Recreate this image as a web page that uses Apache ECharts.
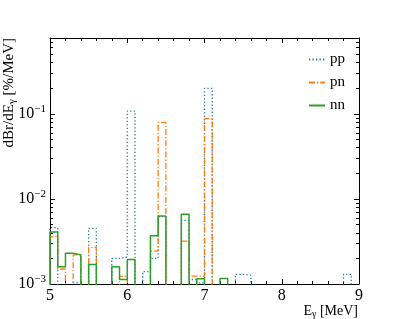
<!DOCTYPE html>
<html><head><meta charset="utf-8">
<script src="https://cdn.jsdelivr.net/npm/echarts@6/dist/echarts.min.js"></script>
<style>html,body{margin:0;padding:0;background:#fff}#c{width:399px;height:319px}</style>
</head><body><div id="c"></div>
<script>
// bin left edges (MeV), bin width 0.1
const binEdges = [5.0,5.1,5.2,5.3,5.4,5.5,5.6,5.7,5.8,5.9,6.0,6.1,6.2,6.3,6.4,6.5,6.6,6.7,6.8,6.9,7.0,7.1,7.2,7.3,7.4,7.5,7.6,7.7,7.8,7.9,8.0,8.1,8.2,8.3,8.4,8.5,8.6,8.7,8.8,8.9];
const xEnd = 9.0;
// dBr/dE values (%/MeV), null = empty bin
const pp = [0.0046,null,null,0.00104,null,0.0045,null,null,0.0020,0.00208,0.108,null,0.0014,0.0020,0.0062,null,null,0.0056,0.00113,0.00103,0.199,null,null,null,0.0013,0.00127,null,null,null,null,null,null,null,null,null,null,null,null,0.0013,null];
const pn = [0.0036,0.0015,null,0.0022,null,0.0027,null,null,null,0.00123,null,null,null,0.00244,0.0793,null,null,0.0032,0.00124,0.00124,0.0879,null,null,null,null,null,null,null,null,null,null,null,null,null,null,null,null,null,null,null];
const nn = [0.0041,0.0016,0.0023,0.0022,null,0.0017,null,null,0.0016,0.00113,0.00194,null,null,0.0037,0.0063,null,null,0.0066,null,0.00115,null,null,0.00116,null,null,null,null,null,null,null,null,null,null,null,null,null,null,null,null,null];
const xTicks = [5,6,7,8,9];
const yTicks = [0.001,0.01,0.1];
const yMin = 1e-3, yMax = 0.78;
const yMinor = [0.002,0.003,0.004,0.005,0.006,0.007,0.008,0.009,0.02,0.03,0.04,0.05,0.06,0.07,0.08,0.09,0.2,0.3,0.4,0.5,0.6,0.7];

const FLOOR = 1e-5;
function stepData(vals){
  const d = [[binEdges[0], FLOOR]];
  vals.forEach((v,i)=>d.push([binEdges[i], v==null?FLOOR:v]));
  d.push([xEnd, FLOOR]);
  return d;
}
const font = '"Liberation Serif", "DejaVu Serif", serif';
const chart = echarts.init(document.getElementById('c'), null, {renderer:'canvas'});
const supLabel = v => { const e = Math.round(Math.log10(v)); return '{b|10}{s|' + (e<0?'\u2212'+(-e):e) + '}'; };
const richY = {b:{fontFamily:font,fontSize:16,color:'#000'}, s:{fontFamily:font,fontSize:11,color:'#000',padding:[0,0,9,0]}};
const baseY = {
  type:'log', logBase:10, min:yMin, max:yMax,
  splitLine:{show:false}
};
chart.setOption({
  animation:false,
  grid:{left:50,right:40,top:38,bottom:35},
  legend:{
    orient:'vertical', left:303, top:47, itemWidth:16, itemHeight:10, itemGap:8,
    textStyle:{fontFamily:font,fontSize:15,color:'#000'},
    itemStyle:{opacity:0},
    data:['pp','pn','nn']
  },
  xAxis:[
    {type:'value',min:5,max:9,interval:1,position:'bottom',
     axisLine:{lineStyle:{color:'#000',width:1}},
     axisTick:{inside:true,length:5,lineStyle:{color:'#000'}},
     minorTick:{show:true,splitNumber:5,length:3,lineStyle:{color:'#000'}},
     axisLabel:{fontFamily:font,fontSize:16,color:'#000',margin:4,customValues:xTicks},
     splitLine:{show:false}},
    {type:'value',min:5,max:9,interval:1,position:'top',
     axisLine:{lineStyle:{color:'#000',width:1}},
     axisTick:{inside:true,length:5,lineStyle:{color:'#000'}},
     minorTick:{show:true,splitNumber:5,length:3,lineStyle:{color:'#000'}},
     axisLabel:{show:false},splitLine:{show:false}}
  ],
  yAxis:[
    Object.assign({},baseY,{position:'left',
      axisLine:{show:true,lineStyle:{color:'#000',width:1}},
      axisTick:{inside:true,length:5,lineStyle:{color:'#000'},customValues:yTicks},
      axisLabel:{formatter:supLabel,rich:richY,margin:4,customValues:yTicks}}),
    Object.assign({},baseY,{position:'left',
      axisLine:{show:false},
      axisTick:{inside:true,length:3,lineStyle:{color:'#000'},customValues:yMinor},
      axisLabel:{show:false}}),
    Object.assign({},baseY,{position:'right',
      axisLine:{show:true,lineStyle:{color:'#000',width:1}},
      axisTick:{inside:true,length:5,lineStyle:{color:'#000'},customValues:yTicks},
      axisLabel:{show:false}}),
    Object.assign({},baseY,{position:'right',
      axisLine:{show:false},
      axisTick:{inside:true,length:3,lineStyle:{color:'#000'},customValues:yMinor},
      axisLabel:{show:false}})
  ],
  series:[
    {name:'pp',type:'line',step:'end',symbol:'none',data:stepData(pp),clip:true,
     lineStyle:{color:'#1f77b4',width:1.3,type:[1.3,2.2]},itemStyle:{color:'#1f77b4'}},
    {name:'pn',type:'line',step:'end',symbol:'none',data:stepData(pn),clip:true,
     lineStyle:{color:'#ff7f0e',width:1.3,type:[6,2,1.3,2]},itemStyle:{color:'#ff7f0e'}},
    {name:'nn',type:'line',step:'end',symbol:'none',data:stepData(nn),clip:true,
     lineStyle:{color:'#2ca02c',width:1.5,type:'solid'},itemStyle:{color:'#2ca02c'}}
  ],
  graphic:[
    {type:'text',x:9,y:38,rotation:Math.PI/2,
     style:{text:'dBr/dE{s|γ} [%/MeV]',font:'15px '+font,fill:'#000',align:'right',verticalAlign:'middle',
       rich:{s:{fontFamily:font,fontSize:11,fill:'#000',padding:[6,0,0,0]}}}},
    {type:'text',x:358,y:311,
     style:{text:'E{s|γ} [MeV]',font:'14px '+font,fill:'#000',align:'right',verticalAlign:'middle',
       rich:{s:{fontFamily:font,fontSize:10,fill:'#000',padding:[6,0,0,0]}}}}
  ]
});
</script></body></html>
